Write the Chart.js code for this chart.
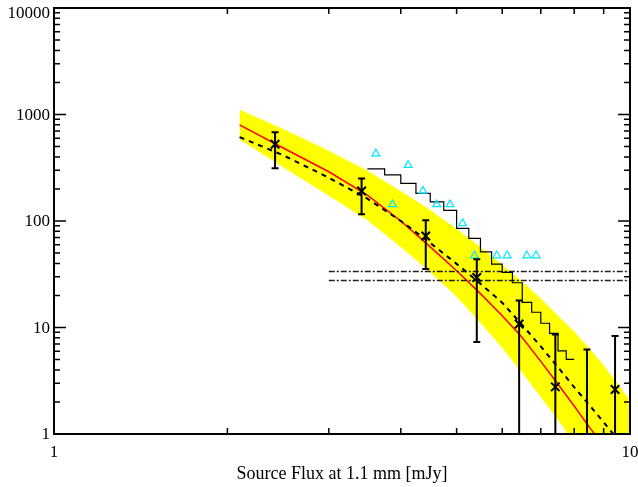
<!DOCTYPE html>
<html>
<head>
<meta charset="utf-8">
<script src="https://cdn.jsdelivr.net/npm/chart.js@4.4.0/dist/chart.umd.min.js"></script>
<style>
  html, body { margin: 0; padding: 0; background: #fff; }
</style>
</head>
<body>
<canvas id="countsChart" width="638" height="487"></canvas>
<script>
// model curves on a flux grid (mJy)
const fluxGrid  = [2.1, 2.5, 3.0, 3.5, 4.0, 4.5, 5.0, 5.5, 6.0, 6.5, 7.0, 7.5, 8.0, 8.5, 9.0, 9.5, 10];
const bestFit   = [798, 485, 290, 175, 100, 57.1, 34.1, 20.8, 12.9, 8.06, 4.81, 2.93, 1.83, 1.16, 0.77, null, null];
const altModel  = [614, 414, 255, 162, 100, 62.3, 39.6, 25.8, 17.1, 10.55, 6.64, 4.23, 2.75, 1.87, 1.29, 0.9, null];
const bandUpper = [1107, 732, 457, 297, 191, 127, 84.2, 57.1, 38.8, 26.9, 18.7, 12.9, 9.18, 6.36, 4.41, 3.00, 2.08];
const bandLower = [584, 320, 173, 101.5, 57.1, 33.1, 19.4, 11.1, 6.42, 3.75, 2.23, 1.35, 0.83, 0.55, 0.35, 0.22, 0.14];

// measured counts with errors
const binFlux   = [2.42, 3.42, 4.42, 5.42, 6.42, 7.42, 8.42, 9.42];
const binCounts = [525, 191, 72.4, 29.5, 10.8, 2.77, null, 2.62];
const errHigh   = [680, 251, 101.5, 43.8, 17.9, 8.6, 6.23, 8.3];
const errLow    = [313, 115.6, 35.4, 7.29, 0, 0, 0, 0];

// other survey counts
const triFlux = [3.62, 3.87, 4.12, 4.37, 4.62, 4.87, 5.12, 5.37, 5.87, 6.12, 6.62, 6.87];
const triVals = [429, 143, 334, 192, 143, 143, 95, 47.4, 47.4, 47.4, 47.4, 47.4];

// cumulative histogram, bin edges and levels
const histEdges  = [3.5, 3.75, 4.0, 4.25, 4.5, 4.75, 5.0, 5.25, 5.5, 5.75, 6.0, 6.25, 6.5, 6.75, 7.0, 7.25, 7.5, 7.75, 8.0];
const histLevels = [308, 271, 226, 181.5, 151, 126, 85.4, 68.6, 51.3, 39.4, 33.0, 26.3, 17.2, 13.9, 10.96, 8.79, 6.03, 5.02];

// horizontal limits
const limitFrom = 3, limitTo = 10;
const limitLevels = [33.6, 27.7];

const xTickVals = [1, 2, 3, 4, 5, 6, 7, 8, 9, 10];
const yTickVals = [];
for (let d = 1; d <= 1000; d *= 10) {
  for (let k = 1; k < 10; k++) yTickVals.push(k * d);
}
yTickVals.push(10000);

function pts(xs, ys) {
  return xs.map((x, i) => ({ x: x, y: ys[i] }));
}
function isDecade(v) {
  const l = Math.log10(v);
  return Math.abs(l - Math.round(l)) < 1e-9;
}

const stairPts = histEdges.map((e, i) => ({ x: e, y: histLevels[Math.min(i, histLevels.length - 1)] }));

const serif = "'Liberation Serif', 'Times New Roman', serif";

// error bars with caps
const errorBars = {
  id: 'errorBars',
  afterDatasetsDraw(chart) {
    const { ctx, chartArea: a, scales: { x, y } } = chart;
    ctx.save();
    ctx.beginPath();
    ctx.rect(a.left, a.top, a.right - a.left, a.bottom - a.top);
    ctx.clip();
    ctx.strokeStyle = '#000';
    ctx.lineWidth = 2;
    binFlux.forEach((f, i) => {
      const px = x.getPixelForValue(f);
      const top = y.getPixelForValue(errHigh[i]);
      const bot = y.getPixelForValue(errLow[i]);
      ctx.beginPath();
      ctx.moveTo(px, top); ctx.lineTo(px, bot);
      ctx.moveTo(px - 3.5, top); ctx.lineTo(px + 3.5, top);
      ctx.moveTo(px - 3.5, bot); ctx.lineTo(px + 3.5, bot);
      ctx.stroke();
    });
    ctx.restore();
  }
};

// box with inward ticks on all four sides, decade labels on y
const frameTicks = {
  id: 'frameTicks',
  afterDraw(chart) {
    const { ctx, chartArea: a, scales: { x, y } } = chart;
    ctx.save();
    ctx.strokeStyle = '#000';
    ctx.lineWidth = 1.5;
    ctx.beginPath();
    xTickVals.forEach(v => {
      const px = x.getPixelForValue(v);
      const len = isDecade(v) ? 12 : 6;
      ctx.moveTo(px, a.bottom); ctx.lineTo(px, a.bottom - len);
      ctx.moveTo(px, a.top); ctx.lineTo(px, a.top + len);
    });
    yTickVals.forEach(v => {
      const py = y.getPixelForValue(v);
      const len = isDecade(v) ? 12 : 6;
      ctx.moveTo(a.left, py); ctx.lineTo(a.left + len, py);
      ctx.moveTo(a.right, py); ctx.lineTo(a.right - len, py);
    });
    ctx.stroke();
    ctx.lineWidth = 2;
    ctx.strokeRect(a.left, a.top, a.right - a.left, a.bottom - a.top);

    // keep the top label inside the canvas
    ctx.fillStyle = '#000';
    ctx.font = '17px ' + serif;
    ctx.textAlign = 'right';
    ctx.textBaseline = 'middle';
    yTickVals.filter(isDecade).forEach(v => {
      const py = Math.max(y.getPixelForValue(v) + 1, a.top + 6);
      ctx.fillText(String(v), a.left - 4, py);
    });
    ctx.restore();
  }
};

const datasets = [
  { data: pts(fluxGrid, bandLower), showLine: true, pointRadius: 0, borderWidth: 0,
    borderColor: 'rgba(0,0,0,0)', fill: false, order: 10 },
  { data: pts(fluxGrid, bandUpper), showLine: true, pointRadius: 0, borderWidth: 0,
    borderColor: 'rgba(0,0,0,0)', backgroundColor: '#ffff00', fill: 0, order: 10 },
  { data: pts(fluxGrid, bestFit), showLine: true, pointRadius: 0, borderWidth: 1.5,
    borderColor: '#ff0000', order: 6 },
  { data: pts(fluxGrid, altModel), showLine: true, pointRadius: 0, borderWidth: 2,
    borderColor: '#000', borderDash: [5, 5], order: 5 }
];
limitLevels.forEach(lv => {
  datasets.push({ data: [{ x: limitFrom, y: lv }, { x: limitTo, y: lv }], showLine: true,
    pointRadius: 0, borderWidth: 1.5, borderColor: '#222', borderDash: [6, 2, 2, 2], order: 4 });
});
datasets.push(
  { data: stairPts, showLine: true, stepped: 'before', pointRadius: 0, borderWidth: 1.2,
    borderColor: '#000', order: 3 },
  { data: pts(triFlux, triVals), showLine: false, pointStyle: 'triangle', pointRadius: 4.5,
    pointBorderColor: '#00e5ff', pointBackgroundColor: 'rgba(0,0,0,0)', pointBorderWidth: 1.2, order: 2 },
  { data: pts(binFlux, binCounts), showLine: false, pointStyle: 'crossRot', pointRadius: 6,
    pointBorderColor: '#000', pointBorderWidth: 2, order: 1 }
);

new Chart(document.getElementById('countsChart'), {
  type: 'scatter',
  data: { datasets: datasets },
  options: {
    responsive: false,
    animation: false,
    layout: { padding: { left: 0, top: 6, right: 8, bottom: 0 } },
    plugins: {
      legend: { display: false },
      tooltip: { enabled: false }
    },
    scales: {
      x: {
        type: 'logarithmic',
        min: 1, max: 10,
        grid: { display: false, drawTicks: false },
        border: { display: false },
        afterBuildTicks: s => { s.ticks = xTickVals.map(v => ({ value: v })); },
        afterFit: s => { s.height = 53; s.paddingLeft = 0; s.paddingRight = 0; },
        ticks: {
          autoSkip: false, maxRotation: 0, padding: 8, color: '#000',
          font: { family: serif, size: 17 },
          callback: v => isDecade(v) ? String(v) : ''
        },
        title: {
          display: true, text: 'Source Flux at 1.1 mm [mJy]', color: '#000',
          font: { family: serif, size: 18 }, padding: { top: 0, bottom: 2 }
        }
      },
      y: {
        type: 'logarithmic',
        min: 1, max: 10000,
        grid: { display: false, drawTicks: false },
        border: { display: false },
        afterBuildTicks: s => { s.ticks = yTickVals.map(v => ({ value: v })); },
        afterFit: s => { s.width = 54; s.paddingTop = 0; s.paddingBottom = 0; },
        ticks: { display: false }
      }
    }
  },
  plugins: [errorBars, frameTicks]
});
</script>
</body>
</html>
